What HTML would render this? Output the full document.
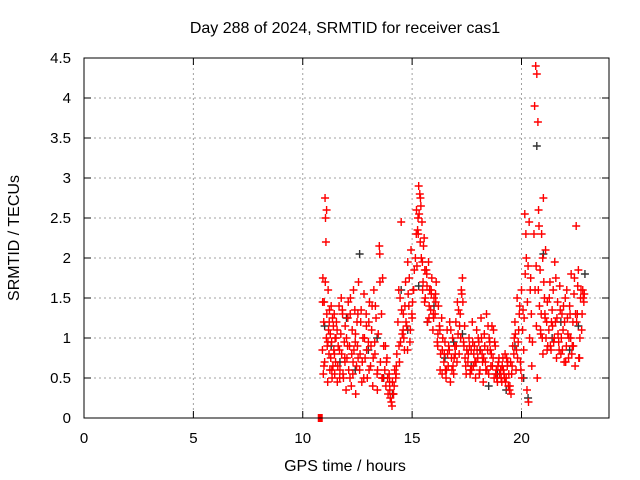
<!DOCTYPE html>
<html><head><meta charset="utf-8"><style>
body{margin:0;background:#fff}
svg{display:block;font-family:"Liberation Sans",sans-serif}
</style></head><body>
<svg id="chart" width="640" height="480">
<text x="345" y="33" text-anchor="middle" font-size="16">Day 288 of 2024, SRMTID for receiver cas1</text>
<text x="345" y="471" text-anchor="middle" font-size="16">GPS time / hours</text>
<text transform="translate(19,238) rotate(-90)" text-anchor="middle" font-size="16">SRMTID / TECUs</text>
<g id="grid"></g><g id="marks"></g><g id="axes"></g>
</svg>
<script>
const xTicks=[0,5,10,15,20];
const yTicks=[0,0.5,1,1.5,2,2.5,3,3.5,4,4.5];
const yTickLabels=["0","0.5","1","1.5","2","2.5","3","3.5","4","4.5"];
const redHours=[10.9,10.92,10.94,10.96,10.98,11.0,11.02,11.04,11.06,11.08,11.1,11.12,11.14,11.16,11.18,11.2,11.22,11.24,11.26,11.28,11.3,11.32,11.34,11.36,11.38,11.4,11.42,11.44,11.46,11.48,
11.5,11.54,11.58,11.62,11.66,11.7,11.74,11.78,11.82,11.86,11.9,11.94,11.98,12.02,12.06,12.1,12.14,12.18,12.22,12.26,12.3,12.34,12.38,12.42,12.46,
11.52,11.6,11.68,11.76,11.84,11.92,12.0,12.08,12.16,12.24,12.32,12.4,12.48,
12.5,12.55,12.6,12.65,12.7,12.75,12.8,12.85,12.9,12.95,13.0,13.05,13.1,13.15,13.2,13.25,13.3,13.35,13.4,13.45,13.5,13.55,13.6,13.65,13.7,
12.52,12.62,12.72,12.82,12.92,13.02,13.12,13.22,13.32,13.42,13.52,13.62,
13.75,13.8,13.85,13.9,13.95,14.0,14.05,14.1,14.15,14.2,14.25,14.3,13.78,13.88,13.98,14.08,14.18,14.28,
14.35,14.4,14.45,14.5,14.55,14.6,14.65,14.7,14.75,14.8,14.85,14.9,14.95,15.0,15.05,15.1,14.42,14.52,14.62,14.72,14.82,14.92,15.02,
15.15,15.2,15.25,15.3,15.35,15.4,15.45,15.5,15.55,15.22,15.28,15.32,15.38,15.42,15.48,15.52,15.58,
15.6,15.65,15.7,15.75,15.8,15.85,15.9,15.95,16.0,16.05,16.1,16.15,16.2,16.25,16.3,16.35,16.4,15.68,15.78,15.88,15.98,16.08,16.18,16.28,16.38,
16.45,16.5,16.55,16.6,16.65,16.7,16.75,16.8,16.85,16.9,16.95,17.0,17.05,17.1,17.15,17.2,17.25,17.3,17.35,17.4,17.45,17.5,16.52,16.62,16.72,16.82,16.92,17.02,17.12,17.22,17.32,17.42,
17.55,17.6,17.65,17.7,17.75,17.8,17.85,17.9,17.95,18.0,18.05,18.1,18.15,18.2,18.25,18.3,18.35,18.4,18.45,18.5,18.55,18.6,18.65,18.7,18.75,18.8,18.85,18.9,18.95,19.0,17.62,17.72,17.82,17.92,18.02,18.12,18.22,18.32,18.42,18.52,18.62,18.72,18.82,18.92,
19.05,19.1,19.15,19.2,19.25,19.3,19.35,19.4,19.45,19.5,19.55,19.6,19.12,19.22,19.32,19.42,19.52,
19.65,19.7,19.75,19.8,19.85,19.9,19.95,20.0,20.05,20.1,20.15,20.2,20.25,20.3,20.35,20.4,20.45,20.5,19.72,19.82,19.92,20.02,20.12,20.22,20.32,20.42,
20.6,20.65,20.7,20.75,20.8,20.85,20.9,20.95,21.0,21.05,21.1,21.15,21.2,20.62,20.68,20.72,20.78,20.82,20.88,20.92,20.98,21.02,21.08,21.12,21.18,
21.25,21.3,21.35,21.4,21.45,21.5,21.55,21.6,21.65,21.7,21.75,21.8,21.85,21.9,21.95,22.0,22.05,22.1,22.15,22.2,22.25,22.3,22.35,22.4,22.45,22.5,22.55,22.6,22.65,22.7,22.75,22.8,22.85,21.32,21.42,21.52,21.62,21.72,21.82,21.92,22.02,22.12,22.22,22.32,22.42,22.52,22.62,22.72,22.82,
10.91,10.97,11.03,11.09,11.15,11.21,11.33,11.45,11.57,11.69,11.81,11.93,12.05,12.17,12.29,12.41,12.53,12.67,12.79,12.91,13.03,13.17,13.29,13.41,13.53,13.67,13.83,13.97,14.13,14.27,
14.39,14.47,14.59,14.67,14.79,14.87,14.99,15.07,15.19,15.27,15.37,15.47,15.57,15.67,15.77,15.87,15.97,16.07,16.17,16.27,16.37,16.47,16.57,16.67,16.77,16.87,16.97,17.07,17.17,17.27,
17.37,17.47,17.57,17.67,17.77,17.87,17.97,18.07,18.17,18.27,18.37,18.47,18.57,18.67,18.77,18.87,18.97,19.07,19.17,19.27,19.37,19.47,19.57,19.67,19.77,19.87,19.97,20.07,20.17,20.27,
20.37,20.47,20.57,20.67,20.77,20.87,20.97,21.07,21.17,21.27,21.37,21.47,21.57,21.67,21.77,21.87,21.97,22.07,22.17,22.27,22.37,22.47,22.57,22.67,22.77,22.87];
const redValues=[0.85,1.75,0.55,1.2,1.45,0.7,2.75,2.5,2.2,1.0,1.3,0.9,0.45,1.6,1.1,0.8,1.35,0.6,1.05,0.75,1.4,0.95,0.5,1.25,0.65,1.15,0.85,1.3,0.55,1.0,
0.7,1.2,0.45,0.9,1.4,0.6,1.05,0.8,1.3,0.5,0.95,1.15,0.35,0.75,1.25,0.6,0.9,1.5,0.4,1.1,0.7,0.85,1.35,0.3,0.65,
1.0,0.65,0.85,1.5,0.55,0.75,1.0,1.45,0.5,0.8,1.6,0.95,1.2,
0.9,1.7,0.6,1.2,0.45,1.0,1.55,0.75,1.3,0.5,0.95,1.45,0.65,1.1,0.4,1.6,0.8,1.25,0.55,1.05,2.15,0.7,1.3,1.75,0.9,
1.3,0.8,0.7,1.0,0.85,1.2,0.9,0.75,1.4,0.6,2.05,0.5,
0.6,0.4,0.75,0.3,0.55,0.25,0.2,0.45,0.3,0.6,0.5,0.8,0.9,0.5,0.35,0.15,0.4,0.65,
1.2,0.9,1.5,2.45,1.05,1.3,0.85,1.7,1.15,1.95,1.4,0.95,2.1,1.25,1.6,1.85,0.7,1.35,1.0,1.2,1.55,1.1,1.45,
2.0,2.6,2.35,2.9,2.8,2.65,2.45,1.7,2.25,1.9,2.3,2.55,2.75,2.0,1.6,2.15,1.85,
1.5,1.85,1.2,1.95,1.6,1.35,1.75,1.1,1.5,1.3,1.7,0.95,1.4,1.15,0.8,1.25,1.0,1.65,1.4,1.55,1.25,1.45,1.05,0.6,0.85,
0.7,0.95,0.5,1.1,0.65,0.85,0.45,0.75,1.0,0.55,0.9,1.2,0.7,1.05,0.8,1.3,1.6,1.75,0.95,1.15,0.65,0.85,0.6,0.8,1.2,0.6,0.75,0.9,1.35,1.0,1.45,0.75,
0.7,1.0,0.55,0.85,1.2,0.65,0.9,0.5,1.1,0.75,0.95,0.6,1.25,0.8,0.45,1.05,0.7,1.3,0.85,0.55,0.95,0.65,1.15,0.75,0.5,0.9,0.6,0.45,0.7,0.55,0.9,0.6,0.8,0.7,1.0,0.85,0.7,0.9,0.6,1.0,0.8,1.1,0.55,0.65,
0.6,0.45,0.75,0.55,0.8,0.5,0.65,0.4,0.35,0.7,0.55,0.9,0.65,0.5,0.75,0.55,0.3,
0.8,1.2,0.6,1.5,0.95,1.3,0.7,1.6,1.1,0.85,2.55,2.3,0.35,1.9,2.45,1.6,1.3,0.95,1.05,0.75,1.4,0.5,1.25,2.0,0.2,1.75,
3.9,4.4,4.3,3.7,2.4,1.85,1.3,1.0,2.75,1.5,2.1,1.2,0.9,1.6,1.15,0.5,2.6,1.4,1.05,2.3,0.8,1.7,1.25,1.0,1.45,
1.1,1.7,0.85,1.35,1.6,1.0,1.2,0.75,1.45,0.95,1.65,0.8,1.3,1.1,0.7,1.5,0.9,1.25,0.75,1.4,1.0,0.8,1.2,1.55,0.65,2.4,1.3,1.85,0.75,1.5,1.1,1.6,1.45,0.9,1.15,1.95,1.25,0.85,1.0,1.4,0.7,1.05,1.3,0.9,1.75,1.2,0.75,1.6,1.5,
1.45,0.65,1.7,2.6,0.95,1.2,0.6,0.8,1.1,0.5,1.35,0.7,0.9,1.3,0.55,1.05,0.75,1.35,0.5,1.15,0.6,1.4,0.95,0.35,1.7,0.5,0.7,0.45,0.3,0.55,
1.6,0.95,1.1,1.4,0.85,1.75,1.3,1.6,2.3,2.5,2.2,1.95,1.45,1.8,1.25,1.6,1.3,1.55,0.9,1.1,0.55,0.8,0.6,0.9,1.1,0.65,0.8,1.45,1.15,1.55,
0.9,0.55,0.8,0.6,0.95,0.7,0.85,0.55,1.0,0.75,0.6,1.15,0.85,0.65,0.95,0.5,0.75,0.5,0.6,0.45,0.7,0.4,0.65,1.0,0.85,1.1,0.6,1.35,1.8,1.45,
1.0,0.65,2.3,1.9,1.6,1.1,2.0,1.3,0.85,1.5,1.2,0.95,1.75,1.05,1.35,0.85,1.2,1.6,1.0,1.8,0.9,1.3,1.65,1.0,1.3,1.55];
const blackHours=[11.0,11.3,11.7,12.0,12.4,12.6,13.0,13.4,13.7,14.1,14.5,14.8,15.3,15.7,16.0,16.5,16.9,17.3,17.7,18.1,18.5,18.9,19.3,19.7,20.1,20.3,20.7,21.0,21.4,21.8,22.2,22.6,22.9];
const blackValues=[1.15,0.9,0.7,1.25,0.6,2.05,0.85,1.0,0.5,0.3,1.6,1.1,1.65,1.2,1.4,0.75,0.95,1.05,0.65,0.85,0.4,0.55,0.35,0.9,0.5,0.25,3.4,2.05,1.0,1.2,0.85,1.15,1.8];
const zeroHours=[10.8];
const zeroValues=[0];

const X0=84,X1=609,Y0=418,Y1=58,XMAX=24,YMAX=4.5;
const xs=h=>X0+(X1-X0)*h/XMAX;
const ys=v=>Y0-(Y0-Y1)*v/YMAX;
const NS='http://www.w3.org/2000/svg';
function mk(tag,attrs,parent){const e=document.createElementNS(NS,tag);for(const k in attrs)e.setAttribute(k,attrs[k]);parent.appendChild(e);return e;}
const grid=document.getElementById('grid'),marks=document.getElementById('marks'),axes=document.getElementById('axes');
xTicks.forEach(t=>{const x=xs(t);
 if(t>0){const g=mk('line',{x1:x,x2:x,y1:Y1,y2:Y0,stroke:'#a0a0a0','stroke-dasharray':'2,3'},grid);
 
 }
 mk('line',{x1:x,x2:x,y1:Y0,y2:Y0-7,stroke:'#000'},axes);
 mk('line',{x1:x,x2:x,y1:Y1,y2:Y1+7,stroke:'#000'},axes);
 const l=mk('text',{x:x,y:Y0+25,'text-anchor':'middle','font-size':'15'},axes);l.textContent=t;
 
 
});
yTicks.forEach((t,i)=>{const y=ys(t);
 if(t>0&&t<YMAX){const g=mk('line',{x1:X0,x2:X1,y1:y,y2:y,stroke:'#a0a0a0','stroke-dasharray':'2,3'},grid);
 
 }
 mk('line',{x1:X0,x2:X0+7,y1:y,y2:y,stroke:'#000'},axes);
 mk('line',{x1:X1,x2:X1-7,y1:y,y2:y,stroke:'#000'},axes);
 const l=mk('text',{x:X0-13,y:y+5,'text-anchor':'end','font-size':'15'},axes);l.textContent=yTickLabels[i];
 
 
});
const frame=mk('rect',{x:X0,y:Y1,width:X1-X0,height:Y0-Y1,fill:'none',stroke:'#000'},axes);


function plus(h,v,col,name){const x=xs(h),y=ys(v);
 const p=mk('path',{d:`M${x-4},${y}H${x+4}M${x},${y-4}V${y+4}`,stroke:col,'stroke-width':1.4,fill:'none'},marks);
 
 }
blackHours.forEach((h,i)=>plus(h,blackValues[i],'#333','black-point'));
redHours.forEach((h,i)=>plus(h,redValues[i],'#ff0000','red-point'));
zeroHours.forEach((h,i)=>{const r=mk('rect',{x:xs(h)-2.5,y:ys(zeroValues[i])-4,width:5,height:8,fill:'#ff0000'},marks);
 
 });
</script>
</body></html>
